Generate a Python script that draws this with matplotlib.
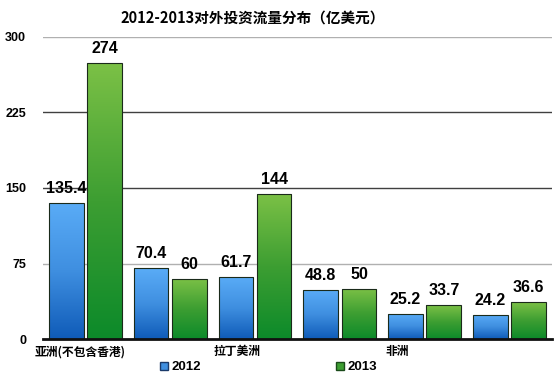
import matplotlib
matplotlib.use("Agg")
import matplotlib.pyplot as plt
import numpy as np
from matplotlib.colors import LinearSegmentedColormap
from matplotlib.patches import Patch

plt.rcParams['font.family'] = ['Noto Sans CJK SC', 'DejaVu Sans']
NUM_FONT = "Liberation Sans"

title = "2012-2013对外投资流量分布（亿美元）"
categories = ["亚洲(不包含香港)", "欧洲", "拉丁美洲", "北美洲", "非洲", "大洋洲"]
shown_labels = ["亚洲(不包含香港)", "", "拉丁美洲", "", "非洲", ""]
series_names = ["2012", "2013"]
values_2012 = [135.4, 70.4, 61.7, 48.8, 25.2, 24.2]
values_2013 = [274, 60, 144, 50, 33.7, 36.6]
label_2012 = ["135.4", "70.4", "61.7", "48.8", "25.2", "24.2"]
label_2013 = ["274", "60", "144", "50", "33.7", "36.6"]
yticks = [0, 75, 150, 225, 300]

fig = plt.figure(figsize=(5.57, 3.84), dpi=100)
ax = fig.add_axes([0.077, 0.117, 0.914, 0.787])

x = np.arange(len(categories))
w = 0.41
off = 0.225

blue_cmap = LinearSegmentedColormap.from_list("b", ["#0f5bb8", "#3f8fe0", "#5aacf7"])
green_cmap = LinearSegmentedColormap.from_list("g", ["#0c8a2a", "#3d9e32", "#7cc146"])

grad = np.linspace(0, 1, 256).reshape(-1, 1)

def draw(vals, pos, cmap, labels):
    bars = ax.bar(pos, vals, width=w, color="none", edgecolor="#1a2a1a", linewidth=0.8, zorder=3)
    for b, lab in zip(bars, labels):
        x0, y0 = b.get_x(), b.get_y()
        bw, bh = b.get_width(), b.get_height()
        im = ax.imshow(grad, cmap=cmap, aspect="auto", origin="lower",
                       extent=[x0, x0 + bw, y0, y0 + bh], zorder=2)
        im.set_clip_path(b)
        ax.text(x0 + bw / 2, bh + 7, lab, ha="center", va="bottom",
                fontsize=11.5, fontweight="bold", family=NUM_FONT, zorder=4)
    return bars

draw(values_2012, x - off, blue_cmap, label_2012)
draw(values_2013, x + off, green_cmap, label_2013)

ax.set_xlim(-0.5, len(categories) - 0.5)
ax.set_ylim(0, 300)
ax.set_yticks(yticks)
ax.set_yticklabels([str(t) for t in yticks], fontsize=9, fontweight="bold", family=NUM_FONT)
grid_colors = {75: "#b0b0b0", 150: "#404040", 225: "#404040", 300: "#b0b0b0"}
for t, c in grid_colors.items():
    ax.axhline(t, color=c, linewidth=1.0, zorder=1)

ax.set_xticks(x)
ax.set_xticklabels([""] * len(categories))
label_shift = [-0.06, 0, -0.21, 0, -0.33, 0]
for xi, lab, s in zip(x, shown_labels, label_shift):
    if lab:
        ax.text(xi + s, -6, lab, ha="center", va="top", fontsize=8.5, fontweight="bold",
                transform=ax.transData)

ax.tick_params(axis="both", length=0)
ax.tick_params(axis="y", pad=12)
for s in ["top", "right", "left"]:
    ax.spines[s].set_visible(False)
ax.spines["bottom"].set_linewidth(2)
ax.spines["bottom"].set_color("#111111")
ax.spines["bottom"].set_zorder(5)

fig.text(0.453, 0.955, title, ha="center", va="center", fontsize=10.5, fontweight="bold")

handles = [Patch(facecolor="#3f8fe0", edgecolor="#1a3a6a"), Patch(facecolor="#3d9e32", edgecolor="#1a4a1a")]
fig.legend(handles, series_names, loc="center", bbox_to_anchor=(0.482, 0.043), ncol=2,
           frameon=False, columnspacing=10.2, handlelength=0.6, handleheight=0.6,
           handletextpad=0.3, prop={"weight": "bold", "size": 9.5, "family": NUM_FONT})

fig.savefig("out.png", dpi=100)
